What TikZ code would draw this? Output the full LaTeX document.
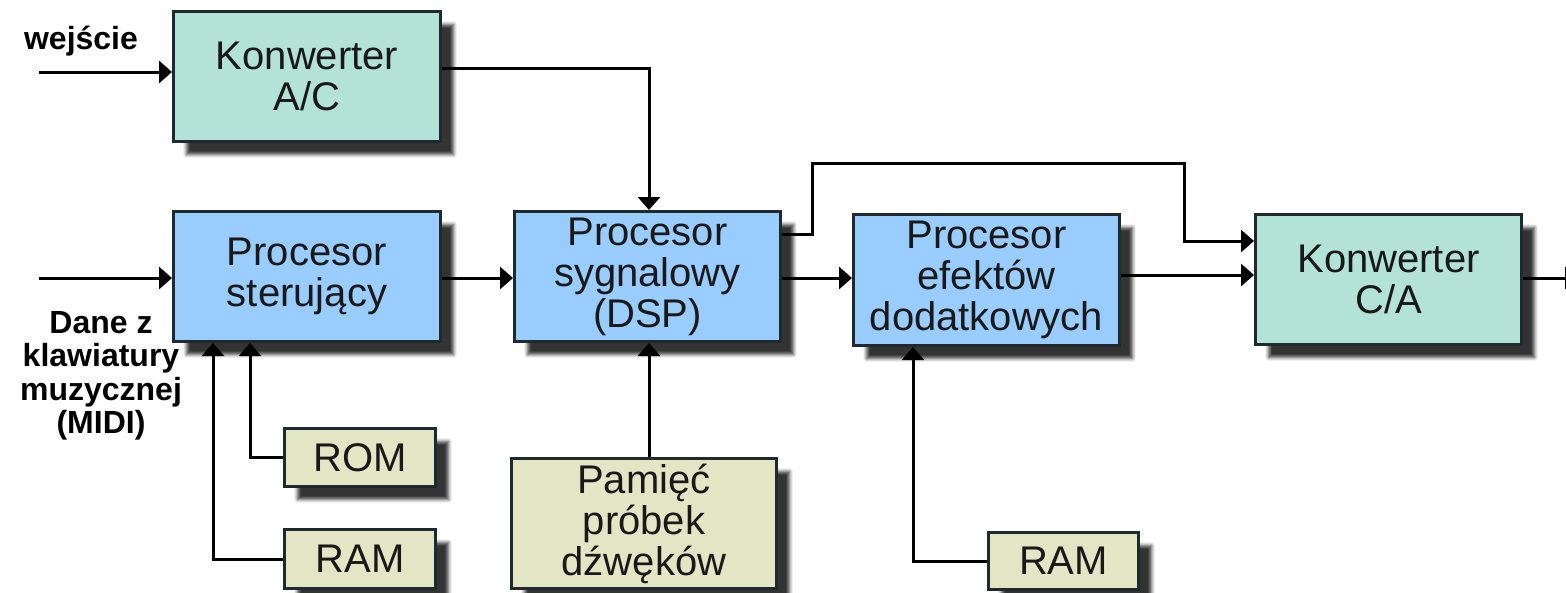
\documentclass[tikz,border=0pt]{standalone}
\usepackage{fontspec}
\setmainfont{Liberation Sans}
\usetikzlibrary{arrows.meta,shadows.blur,calc}

\definecolor{convgreen}{HTML}{B3E3D6}
\definecolor{procblue}{HTML}{99CCFF}
\definecolor{membeige}{HTML}{E3E6C4}
\definecolor{edgedark}{HTML}{1E2A2E}

\tikzset{
  unit/.style={draw=edgedark, line width=3pt, inner sep=0pt, align=center,
    text=black!90, font=\fontsize{40}{41}\selectfont,
    blur shadow={shadow xshift=13pt, shadow yshift=-13pt,
      shadow blur radius=3.5pt, shadow opacity=80, shadow blur steps=6}},
  conv/.style={unit, fill=convgreen},
  proc/.style={unit, fill=procblue},
  mem/.style={unit, fill=membeige},
  wire/.style={line width=3pt, draw=black},
  conn/.style={wire, -{Triangle[length=13pt,width=22pt]}},
  lbl/.style={font=\bfseries\fontsize{32}{33.5}\selectfont, align=center, inner sep=0pt}
}

\begin{document}
\begin{tikzpicture}[x=1pt,y=-1pt]
  \useasboundingbox (0,0) rectangle (1566,592);

  % main blocks
  \node[conv, minimum width=267pt, minimum height=130pt] (ac)   at (307,76.5)   {Konwerter\\A/C};
  \node[proc, minimum width=267pt, minimum height=130pt] (ster) at (307,276.5)  {Procesor\\sterujący};
  \node[proc, minimum width=266pt, minimum height=130pt] (dsp)  at (647.5,276.5){Procesor\\sygnalowy\\(DSP)};
  \node[proc, minimum width=266pt, minimum height=131pt] (efx)  at (986.5,280)  {Procesor\\efektów\\dodatkowych};
  \node[conv, minimum width=266pt, minimum height=130pt] (ca)   at (1388.5,279.5){Konwerter\\C/A};

  % memories
  \node[mem, minimum width=151pt, minimum height=58pt]  (rom)  at (360,457.5)  {ROM};
  \node[mem, minimum width=151pt, minimum height=59pt]  (ram1) at (360,559)    {RAM};
  \node[mem, minimum width=265pt, minimum height=130pt] (pam)  at (644,523.5)  {Pamięć\\próbek\\dźwęków};
  \node[mem, minimum width=150pt, minimum height=57pt]  (ram2) at (1063.5,561) {RAM};

  % labels
  \node[lbl, anchor=base] (lin) at (81,49) {wejście};
  \node[lbl] (lmidi) at (101,376) {Dane z\\klawiatury\\muzycznej\\(MIDI)};

  % free ends and bends
  \coordinate (in1) at (39,72);
  \coordinate (in2) at (39,278);
  \coordinate (out) at (1578,278);
  \coordinate (j1) at (812,163);
  \coordinate (j2) at (1184,163);

  % signal paths
  \draw[conn] (in1) -- (in1 -| ac.west);
  \draw[conn] (in2) -- (in2 -| ster.west);
  \draw[conn] ([yshift=8.5pt]ac.east) -| ([xshift=1.5pt]dsp.north);
  \draw[conn] ([yshift=-1.5pt]ster.east) -- ([yshift=-1.5pt]dsp.west);
  \draw[conn] ([yshift=-1.5pt]dsp.east) -- ([yshift=-1.5pt]dsp.east -| efx.west);
  \draw[conn] ([yshift=42.5pt]dsp.east) -| (j1) -- (j2) |- ([yshift=38.5pt]ca.west);
  \draw[conn] ([yshift=5pt]efx.east) -- ([yshift=5pt]efx.east -| ca.west);
  \draw[conn] (out -| ca.east) -- (out);

  % memory buses
  \draw[conn] (rom.west) -| ([xshift=-57pt]ster.south);
  \draw[conn] (ram1.west) -| ([xshift=-94pt]ster.south);
  \draw[conn] ([xshift=5pt]pam.north) -- ([xshift=5pt]pam.north |- dsp.south);
  \draw[conn] (ram2.west) -| ([xshift=-73.5pt]efx.south);
\end{tikzpicture}
\end{document}
